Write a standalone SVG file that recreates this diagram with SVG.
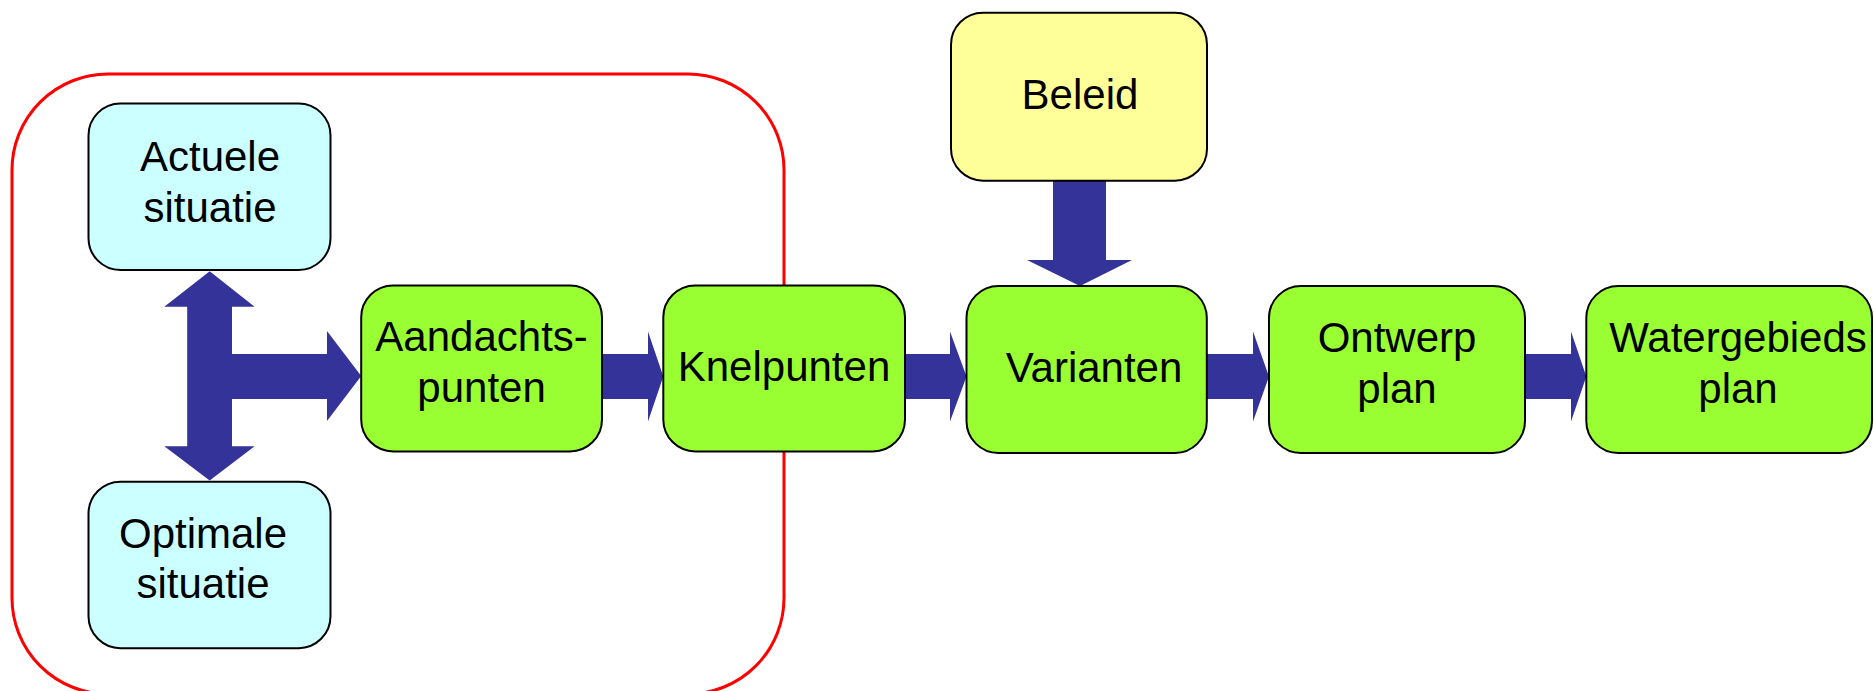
<svg xmlns="http://www.w3.org/2000/svg" width="1874" height="691" viewBox="0 0 1874 691">
<style>
.box{stroke:#000;stroke-width:2}
.cyan{fill:#CCFFFF}
.green{fill:#99FF33}
.yellow{fill:#FFFF99}
.arr{fill:#333399;stroke:none}
text{font-family:"Liberation Sans",Arial,sans-serif;font-size:42px;fill:#000;text-anchor:middle}
</style>
<rect x="0" y="0" width="1874" height="691" fill="#fff"/>
<g id="group-frame">
<rect x="12" y="74" width="772" height="620" rx="96" ry="96" fill="none" stroke="#FF0000" stroke-width="3"/>
</g>
<g id="connectors">
<path class="arr" d="M209.7,271.3 L254.6,306.7 L232,306.7 L232,354 L327,354 L327,331 L361.2,376 L327,421 L327,399 L232,399 L232,446.3 L254.6,446.3 L209.7,480.5 L164.3,446.3 L187.2,446.3 L187.2,306.7 L164.3,306.7 Z"/>
<path class="arr" d="M602,354 L648,354 L648,331.5 L663.3,376.5 L648,421.5 L648,399 L602,399 Z"/>
<path class="arr" d="M905,354 L950,354 L950,331.5 L966.5,376.5 L950,421.5 L950,399 L905,399 Z"/>
<path class="arr" d="M1207,354 L1253,354 L1253,331.5 L1269,376.5 L1253,421.5 L1253,399 L1207,399 Z"/>
<path class="arr" d="M1525,354 L1571,354 L1571,331.5 L1586.3,376.5 L1571,421.5 L1571,399 L1525,399 Z"/>
<path class="arr" d="M1053,180 L1106,180 L1106,260 L1132,260 L1080,286 L1027,260 L1053,260 Z"/>
</g>
<g id="node-actuele">
<rect class="box cyan" x="88.5" y="103.5" width="242" height="166.5" rx="32"/>
<text x="210" y="170.7">Actuele</text>
<text x="210" y="222.2">situatie</text>
</g>
<g id="node-optimale">
<rect class="box cyan" x="88.5" y="481.7" width="242" height="166.5" rx="32"/>
<text x="203" y="548">Optimale</text>
<text x="203" y="598.4">situatie</text>
</g>
<g id="node-aandachtspunten">
<rect class="box green" x="361.2" y="285.4" width="240.8" height="166" rx="32"/>
<text x="481.6" y="351">Aandachts-</text>
<text x="481.6" y="402">punten</text>
</g>
<g id="node-knelpunten">
<rect class="box green" x="663.3" y="285.4" width="241.7" height="166" rx="32"/>
<text x="784" y="380.7">Knelpunten</text>
</g>
<g id="node-beleid">
<rect class="box yellow" x="951" y="12.7" width="256" height="168" rx="32"/>
<text x="1080" y="109.4">Beleid</text>
</g>
<g id="node-varianten">
<rect class="box green" x="966.5" y="286" width="240.3" height="167" rx="32"/>
<text x="1094" y="382.3">Varianten</text>
</g>
<g id="node-ontwerpplan">
<rect class="box green" x="1269" y="286" width="256" height="167" rx="32"/>
<text x="1397" y="352">Ontwerp</text>
<text x="1397" y="403">plan</text>
</g>
<g id="node-watergebiedsplan">
<rect class="box green" x="1586.3" y="286" width="285.7" height="167" rx="32"/>
<text x="1738" y="352">Watergebieds</text>
<text x="1738" y="403">plan</text>
</g>
</svg>
